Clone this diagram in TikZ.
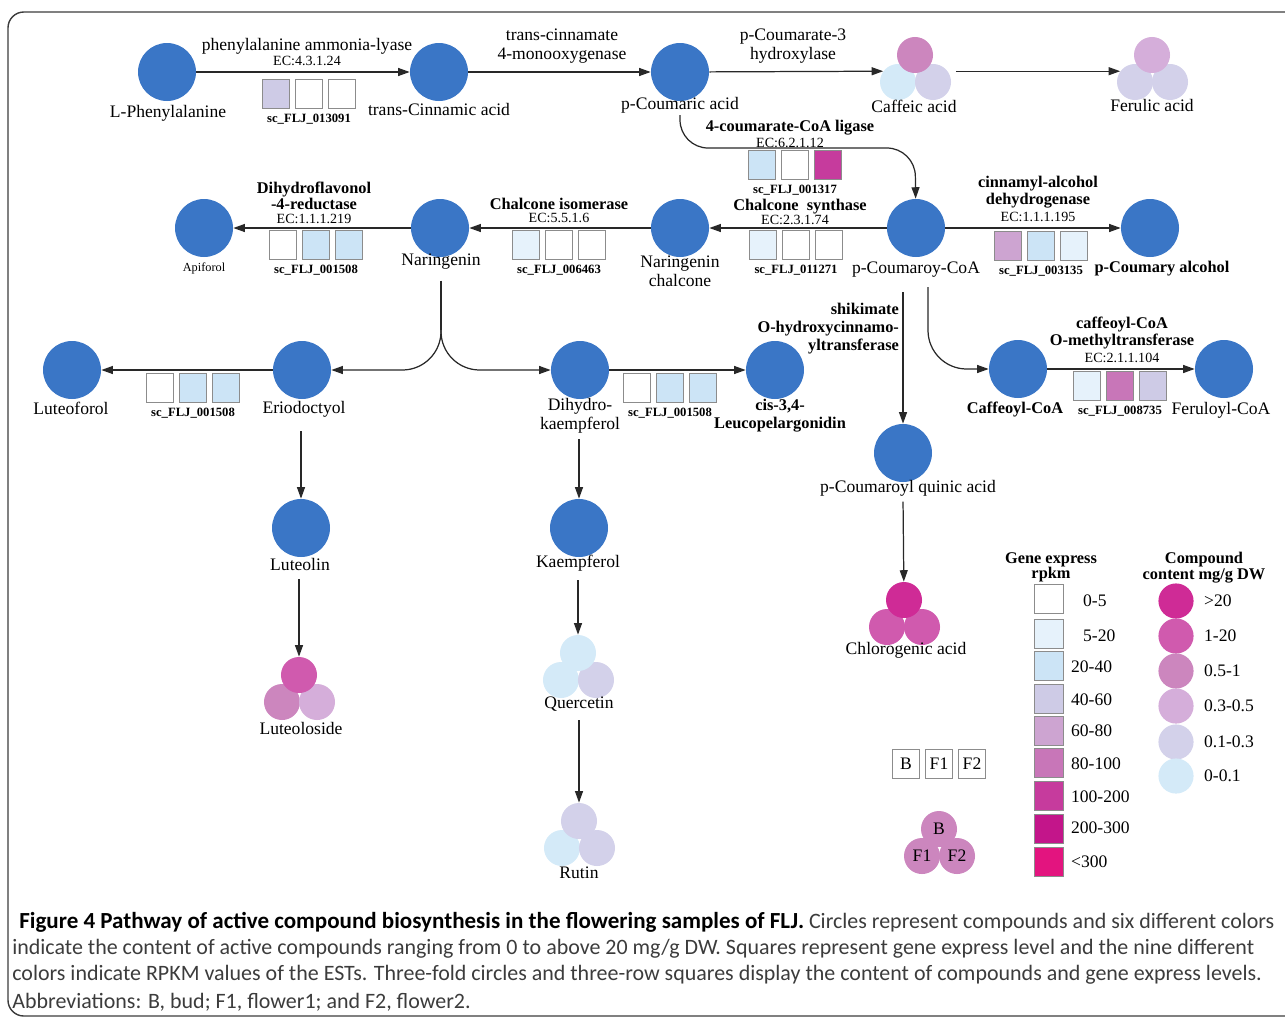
\documentclass[tikz,border=0pt]{standalone}
\usepackage{fontspec}
\setmainfont{Liberation Serif}
\newfontfamily\capfont{Carlito}
\usepackage{tikz}
\usetikzlibrary{arrows.meta,positioning,calc}

\definecolor{cpdblue}{RGB}{58,118,198}
\definecolor{linegray}{RGB}{40,40,40}
\definecolor{boxgray}{RGB}{140,140,140}
\definecolor{framegray}{RGB}{60,60,60}
\definecolor{captext}{RGB}{60,60,60}
% gene express (rpkm)
\definecolor{g0}{RGB}{255,255,255}
\definecolor{g1}{RGB}{230,242,251}
\definecolor{g2}{RGB}{204,228,246}
\definecolor{g3}{RGB}{206,203,230}
\definecolor{g4}{RGB}{205,164,209}
\definecolor{g5}{RGB}{200,118,184}
\definecolor{g6}{RGB}{198,59,157}
\definecolor{g7}{RGB}{195,21,138}
\definecolor{g8}{RGB}{227,20,127}
% compound content
\definecolor{k1}{RGB}{207,43,150}
\definecolor{k2}{RGB}{208,90,174}
\definecolor{k3}{RGB}{204,134,190}
\definecolor{k4}{RGB}{213,174,218}
\definecolor{k5}{RGB}{211,209,234}
\definecolor{k6}{RGB}{212,234,248}

\tikzset{
  cpd/.style={circle,fill=cpdblue,minimum size=33pt,inner sep=0pt},
  tri/.style={circle,minimum size=20.5pt,inner sep=0pt},
  gbox/.style={draw=boxgray,line width=0.6pt,minimum width=15.4pt,minimum height=17pt,inner sep=0pt},
  lbl/.style={font=\fontsize{10}{10.8}\selectfont,inner sep=1pt,align=center},
  blbl/.style={font=\bfseries\fontsize{9.3}{10.2}\selectfont,inner sep=1pt,align=center},
  eclbl/.style={font=\fontsize{8}{9}\selectfont,inner sep=0pt},
  gid/.style={font=\bfseries\fontsize{7.2}{8}\selectfont,inner sep=0pt},
  arr/.style={->,>={Triangle[length=6.5pt,width=4.5pt]},line width=0.7pt,draw=linegray},
  link/.style={line width=0.7pt,draw=linegray},
  captxt/.style={font=\capfont\fontsize{12.5}{13}\selectfont,inner sep=0pt,anchor=west,text=captext},
}

% three gene boxes: name, centre, colours, id
\newcommand{\genes}[6]{%
  \node[gbox,fill=#4] (#1-2) at (#2) {};
  \node[gbox,fill=#3,left=2.8pt of #1-2] (#1-1) {};
  \node[gbox,fill=#5,right=2.8pt of #1-2] (#1-3) {};
  \node[gid,below=2.2pt of #1-2] (#1-id) {#6};
}
% three-fold circle: name, top centre, colours top/left/right
\newcommand{\trio}[5]{%
  \node[tri,fill=#4] (#1-l) at ($(#2)+(-17,27)$) {};
  \node[tri,fill=#5] (#1-r) at ($(#2)+(18,27)$) {};
  \node[tri,fill=#3] (#1-t) at (#2) {};
}

\begin{document}
\begin{tikzpicture}[x=0.2mm,y=-0.2mm]
	\useasboundingbox (0,0) rectangle (1285,1020);
	\draw[framegray,line width=0.8pt,rounded corners=9pt] (8,12) rectangle (1320,1016);
	%
	% first row
	\node[cpd] (phe) at (167,72) {};
	\node[lbl] (phe-n) at (168,113) {L-Phenylalanine};
	\node[cpd] (cin) at (439,72) {};
	\node[lbl] (cin-n) at (439,109) {trans-Cinnamic acid};
	\node[cpd] (pcou) at (680,72) {};
	\node[lbl] (pcou-n) at (680,105) {p-Coumaric acid};
	\trio{caf}{915,55}{k3}{k6}{k5}
	\node[lbl] (caf-n) at (914,106) {Caffeic acid};
	\trio{fer}{1152,55}{k4}{k5}{k5}
	\node[lbl] (fer-n) at (1152,105) {Ferulic acid};
		\draw[arr] (phe) -- (cin);
		\draw[arr] (cin) -- (pcou);
		\draw[arr] (pcou) -- (caf-l.144);
		\draw[arr,shorten <=4.5pt] (caf-r.36) -- (fer-l.144);
	\node[lbl] (pal) at (307,46) {phenylalanine ammonia-lyase};
	\node[eclbl] (pal-ec) at (307,61) {EC:4.3.1.24};
	\genes{palg}{309,94}{g3}{g0}{g0}{sc\_FLJ\_013091}
	\node[lbl] (c4h) at (562,46) {trans-cinnamate\\4-monooxygenase};
	\node[lbl] (c3h) at (793,46) {p-Coumarate-3\\hydroxylase};
	%
	% second row
	\node[cpd] (api) at (204,228) {};
	\node[font=\fontsize{7}{8}\selectfont] (api-n) at (204,268) {Apiforol};
	\node[cpd] (nar) at (440,228) {};
	\node[lbl] (nar-n) at (441,262) {Naringenin};
	\node[cpd] (nch) at (680,228) {};
	\node[lbl] (nch-n) at (680,271) {Naringenin\\chalcone};
	\node[cpd] (pcoa) at (916,228) {};
	\node[lbl] (pcoa-n) at (916,270) {p-Coumaroy-CoA};
	\node[cpd] (palc) at (1150,228) {};
	\node[blbl] (palc-n) at (1162,269) {p-Coumary alcohol};
		\coordinate (c4cl) at (915,148);
		\draw[arr,rounded corners=16pt] (pcou-n.south) |- (c4cl) -- (pcoa);
		\draw[arr] (pcoa) -- (nch);
		\draw[arr] (nch) -- (nar);
		\draw[arr] (nar) -- (api);
		\draw[arr] (pcoa) -- (palc);
	\node[blbl] (fcl) at (790,128) {4-coumarate-CoA ligase};
	\node[eclbl] (fcl-ec) at (790,143) {EC:6.2.1.12};
	\genes{fclg}{795,165}{g2}{g0}{g6}{sc\_FLJ\_001317}
	\node[blbl] (chs) at (800,207) {Chalcone\ \ synthase};
	\node[eclbl] (chs-ec) at (795,220) {EC:2.3.1.74};
	\genes{chsg}{796,245}{g1}{g0}{g0}{sc\_FLJ\_011271}
	\node[blbl] (chi) at (559,204) {Chalcone isomerase};
	\node[eclbl] (chi-ec) at (559,218) {EC:5.5.1.6};
	\genes{chig}{559,245}{g1}{g0}{g0}{sc\_FLJ\_006463}
	\node[blbl,font=\bfseries\fontsize{9.3}{9}\selectfont] (dfr) at (314,196) {Dihydroflavonol\\-4-reductase};
	\node[eclbl] (dfr-ec) at (314,219) {EC:1.1.1.219};
	\genes{dfrg}{316,245}{g0}{g2}{g2}{sc\_FLJ\_001508}
	\node[blbl,font=\bfseries\fontsize{9.3}{9.6}\selectfont] (cad) at (1038,192) {cinnamyl-alcohol\\dehydrogenase};
	\node[eclbl] (cad-ec) at (1038,217) {EC:1.1.1.195};
	\genes{cadg}{1041,246}{g4}{g2}{g1}{sc\_FLJ\_003135}
	%
	% third row
	\node[cpd] (lfr) at (72,370) {};
	\node[lbl] (lfr-n) at (71,408) {Luteoforol};
	\node[cpd] (eri) at (302,370) {};
	\node[lbl] (eri-n) at (304,409) {Eriodoctyol};
	\node[cpd] (dhk) at (580,370) {};
	\node[lbl] (dhk-n) at (580,416) {Dihydro-\\kaempferol};
	\node[cpd] (leu) at (775,370) {};
	\node[blbl] (leu-n) at (780,416) {cis-3,4-\\Leucopelargonidin};
	\node[cpd] (ccoa) at (1018,369) {};
	\node[blbl] (ccoa-n) at (1015,410) {Caffeoyl-CoA};
	\node[cpd] (fcoa) at (1224,369) {};
	\node[lbl] (fcoa-n) at (1221,410) {Feruloyl-CoA};
		\coordinate (split) at (441,330);
		\draw[link,shorten <=5pt] (nar-n.south) -- (split);
		\draw[arr,rounded corners=22pt] (split) |- (eri);
		\draw[arr,rounded corners=22pt] (split) |- (dhk);
		\draw[arr] (eri) -- (lfr);
		\draw[arr] (dhk) -- (leu);
		\coordinate (ccoa0) at (928,287);
		\draw[arr,rounded corners=22pt] (ccoa0) |- (ccoa);
		\draw[arr] (ccoa) -- (fcoa);
	\genes{lfrg}{193,388}{g0}{g2}{g2}{sc\_FLJ\_001508}
	\genes{leug}{670,388}{g0}{g2}{g2}{sc\_FLJ\_001508}
	\node[blbl] (omt) at (1122,333) {caffeoyl-CoA\\O-methyltransferase};
	\node[eclbl] (omt-ec) at (1122,358) {EC:2.1.1.104};
	\genes{omtg}{1120,386}{g1}{g5}{g3}{sc\_FLJ\_008735}
	\node[blbl,align=right,anchor=east] (hct) at (901,329) {shikimate\\O-hydroxycinnamo-\\yltransferase};
	%
	% lower part
	\node[cpd] (pcq) at (903,453) {};
	\node[lbl] (pcq-n) at (908,488) {p-Coumaroyl quinic acid};
	\node[cpd] (lutn) at (301,528) {};
	\node[lbl] (lutn-n) at (300,564) {Luteolin};
	\node[cpd] (kmp) at (579,528) {};
	\node[lbl] (kmp-n) at (578,563) {Kaempferol};
	\trio{chl}{904,600}{k1}{k2}{k2}
	\node[lbl] (chl-n) at (906,650) {Chlorogenic acid};
	\trio{lsd}{299,675}{k2}{k3}{k4}
	\node[lbl] (lsd-n) at (301,728) {Luteoloside};
	\trio{que}{578,653}{k6}{k6}{k5}
	\node[lbl] (que-n) at (579,704) {Quercetin};
	\trio{rut}{579,821}{k5}{k6}{k5}
	\node[lbl] (rut-n) at (579,873) {Rutin};
		\draw[arr,shorten <=7pt] (pcoa-n.south -| pcq) -- (pcq);
		\draw[arr,shorten <=7pt] (eri-n.south -| lutn) -- (lutn);
		\draw[arr,shorten <=4pt] (lutn-n.south -| lsd-t) -- (lsd-t);
		\draw[arr,shorten <=2pt] (dhk-n.south -| kmp) -- (kmp);
		\draw[arr,shorten <=4pt] (kmp-n.south -| que-t) -- (que-t);
		\draw[arr,shorten <=4pt] (que-n.south -| rut-t) -- (rut-t);
		\draw[arr,shorten <=2pt] (pcq-n.south -| pcq) -- (chl-t);
	%
	% legend
	\node[blbl,font=\bfseries\fontsize{9.3}{8.6}\selectfont] (gleg) at (1051,567) {Gene express\\rpkm};
	\node[gbox,fill=g0,minimum width=16pt] (l0) at (1049,599) {};
	\node[gbox,fill=g1,minimum width=16pt] (l1) at (1049,634) {};
	\node[gbox,fill=g2,minimum width=16pt] (l2) at (1049,666) {};
	\node[gbox,fill=g3,minimum width=16pt] (l3) at (1049,699) {};
	\node[gbox,fill=g4,minimum width=16pt] (l4) at (1049,731) {};
	\node[gbox,fill=g5,minimum width=16pt] (l5) at (1049,763) {};
	\node[gbox,fill=g6,minimum width=16pt] (l6) at (1049,796) {};
	\node[gbox,fill=g7,minimum width=16pt] (l7) at (1049,829) {};
	\node[gbox,fill=g8,minimum width=16pt] (l8) at (1049,862) {};
	\node[lbl,anchor=west] at (1081,601) {0-5};
	\node[lbl,anchor=west] at (1081,636) {5-20};
	\node[lbl,anchor=west] at (1069,667) {20-40};
	\node[lbl,anchor=west] at (1069,700) {40-60};
	\node[lbl,anchor=west] at (1069,731) {60-80};
	\node[lbl,anchor=west] at (1069,764) {80-100};
	\node[lbl,anchor=west] at (1069,797) {100-200};
	\node[lbl,anchor=west] at (1069,828) {200-300};
	\node[lbl,anchor=west] at (1069,862) {<300};
	%
	\node[blbl,font=\bfseries\fontsize{9.3}{9}\selectfont] (kleg) at (1204,568) {Compound\\content mg/g DW};
	\node[tri,fill=k1,minimum size=20pt] (m1) at (1176,601) {};
	\node[tri,fill=k2,minimum size=20pt] (m2) at (1176,636) {};
	\node[tri,fill=k3,minimum size=20pt] (m3) at (1176,671) {};
	\node[tri,fill=k4,minimum size=20pt] (m4) at (1176,706) {};
	\node[tri,fill=k5,minimum size=20pt] (m5) at (1176,742) {};
	\node[tri,fill=k6,minimum size=20pt] (m6) at (1176,776) {};
	\node[lbl,anchor=west] at (1202,601) {>20};
	\node[lbl,anchor=west] at (1202,636) {1-20};
	\node[lbl,anchor=west] at (1202,671) {0.5-1};
	\node[lbl,anchor=west] at (1202,706) {0.3-0.5};
	\node[lbl,anchor=west] at (1202,742) {0.1-0.3};
	\node[lbl,anchor=west] at (1202,776) {0-0.1};
	%
	\node[gbox,minimum height=16pt,lbl] (sb) at (906,764) {B};
	\node[gbox,minimum height=16pt,lbl] (sf1) at (939,764) {F1};
	\node[gbox,minimum height=16pt,lbl] (sf2) at (972,764) {F2};
	\trio{smp}{939,829}{k3}{k3}{k3}
	\node[lbl] at (smp-t) {B};
	\node[lbl] at (smp-l) {F1};
	\node[lbl] at (smp-r) {F2};
	%
	% caption
	\node[captxt] (cap1) at (19,922) {{\bfseries\fontsize{13.1}{13}\selectfont\color{black}Figure 4 Pathway of active compound biosynthesis in the flowering samples of FLJ.} Circles represent compounds and six different colors};
	\node[captxt] (cap2) at (12,949) {indicate the content of active compounds ranging from 0 to above 20 mg/g DW. Squares represent gene express level and the nine different};
	\node[captxt] (cap3) at (12,975) {colors indicate RPKM values of the ESTs. Three-fold circles and three-row squares display the content of compounds and gene express levels.};
	\node[captxt] (cap4) at (12,1002) {Abbreviations: B, bud; F1, flower1; and F2, flower2.};
\end{tikzpicture}
\end{document}
